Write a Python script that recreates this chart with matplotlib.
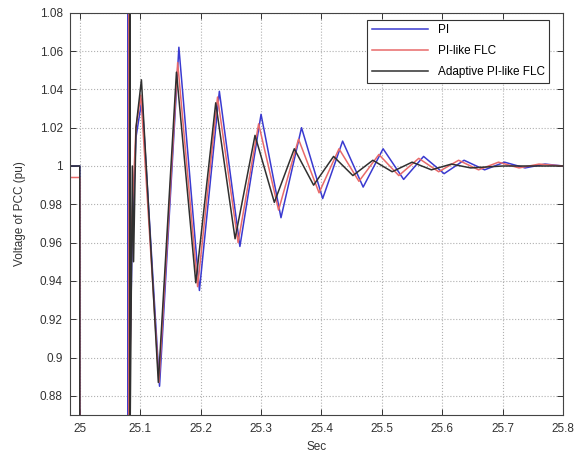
import matplotlib
matplotlib.use("Agg")
import matplotlib.pyplot as plt

plt.rcParams['font.family'] = ['Liberation Sans', 'DejaVu Sans']

# PI controller: time (s) / voltage (pu)
t_pi = [24.9835, 25.0, 25.0, 25.0795, 25.0795, 25.0800, 25.0800, 25.087, 25.093, 25.103,
        25.132, 25.164, 25.198, 25.231, 25.265, 25.300, 25.333, 25.367, 25.402, 25.435,
        25.469, 25.502, 25.536, 25.569, 25.603, 25.636, 25.670, 25.703, 25.737, 25.770, 25.80]
v_pi = [1.0, 1.0, 0.5, 0.5, 1.2, 1.2, 0.85, 0.965, 1.015, 1.035,
        0.885, 1.062, 0.935, 1.039, 0.958, 1.027, 0.973, 1.020, 0.983, 1.013,
        0.989, 1.009, 0.993, 1.005, 0.996, 1.003, 0.998, 1.002, 0.999, 1.001, 1.0]

# PI-like FLC
t_flc = [24.9835, 25.0, 25.0, 25.0810, 25.0810, 25.0815, 25.0815, 25.086, 25.093, 25.101,
         25.131, 25.162, 25.195, 25.228, 25.262, 25.296, 25.329, 25.362, 25.396, 25.429,
         25.462, 25.495, 25.528, 25.561, 25.594, 25.627, 25.660, 25.693, 25.727, 25.760, 25.80]
v_flc = [0.994, 0.994, 0.5, 0.5, 1.2, 1.2, 0.85, 0.97, 1.02, 1.037,
         0.887, 1.054, 0.937, 1.036, 0.960, 1.022, 0.977, 1.014, 0.986, 1.009,
         0.992, 1.006, 0.995, 1.004, 0.997, 1.003, 0.998, 1.002, 0.999, 1.001, 1.0]

# Adaptive PI-like FLC
t_ad = [24.9835, 25.0, 25.0, 25.0825, 25.0825, 25.0830, 25.0830, 25.087, 25.089, 25.093, 25.102,
        25.130, 25.160, 25.192, 25.225, 25.257, 25.290, 25.322, 25.355, 25.387, 25.420,
        25.452, 25.485, 25.517, 25.550, 25.582, 25.615, 25.647, 25.70, 25.80]
v_ad = [1.0, 1.0, 0.5, 0.5, 1.2, 1.2, 0.85, 1.0, 0.95, 1.02, 1.045,
        0.887, 1.049, 0.939, 1.033, 0.962, 1.016, 0.981, 1.009, 0.990, 1.005,
        0.995, 1.003, 0.997, 1.002, 0.998, 1.001, 0.999, 1.0, 1.0]

x_ticks = [25, 25.1, 25.2, 25.3, 25.4, 25.5, 25.6, 25.7, 25.8]
x_labels = ['25', '25.1', '25.2', '25.3', '25.4', '25.5', '25.6', '25.7', '25.8']
y_ticks = [0.88, 0.90, 0.92, 0.94, 0.96, 0.98, 1.0, 1.02, 1.04, 1.06, 1.08]
y_labels = ['0.88', '0.9', '0.92', '0.94', '0.96', '0.98', '1', '1.02', '1.04', '1.06', '1.08']

fig = plt.figure(figsize=(5.77, 4.57), dpi=100)
ax = fig.add_axes([0.121, 0.092, 0.855, 0.88])

ax.plot(t_pi, v_pi, color='#3a3ad0', linewidth=1.1, label='PI')
ax.plot(t_flc, v_flc, color='#e86a6a', linewidth=1.1, label='PI-like FLC')
ax.plot(t_ad, v_ad, color='#303030', linewidth=1.1, label='Adaptive PI-like FLC')

ax.set_xlim(24.9835, 25.8)
ax.set_ylim(0.87, 1.08)
ax.set_xticks(x_ticks)
ax.set_xticklabels(x_labels)
ax.set_yticks(y_ticks)
ax.set_yticklabels(y_labels)
ax.tick_params(direction='in', top=True, right=True, length=4, labelsize=8.5,
               colors='#333333', width=0.7)
ax.tick_params(axis='x', pad=6)
ax.tick_params(axis='y', pad=5)
ax.grid(True, linestyle=':', color='#b0b0b0', linewidth=0.8)
for s in ax.spines.values():
    s.set_color('#444444')
    s.set_linewidth(0.8)

ax.set_xlabel('Sec', fontsize=8.5, color='#333333', labelpad=4)
ax.set_ylabel('Voltage of PCC (pu)', fontsize=8.5, color='#333333', labelpad=10)

leg = ax.legend(loc='upper right', bbox_to_anchor=(0.972, 0.983), borderaxespad=0,
                fontsize=8.5, handlelength=4.8, fancybox=False, framealpha=1,
                edgecolor='#333333', labelspacing=0.75)
leg.get_frame().set_linewidth(0.8)

fig.savefig('out.png', dpi=100)
